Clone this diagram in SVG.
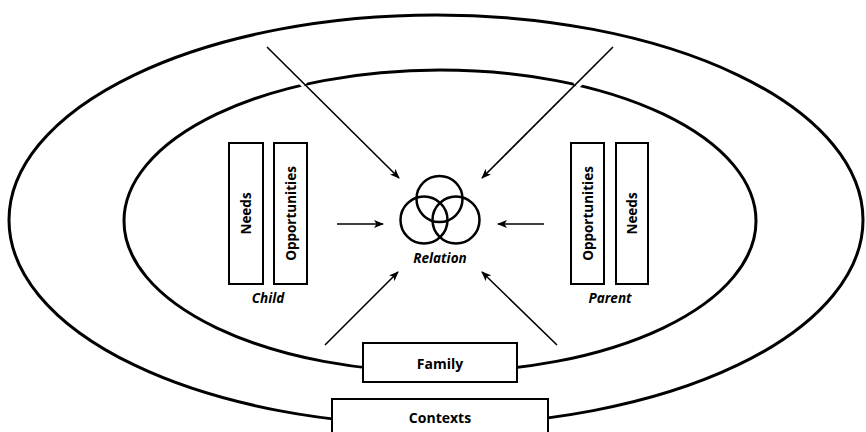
<svg xmlns="http://www.w3.org/2000/svg" width="866" height="432" viewBox="0 0 866 432">
<defs>
<marker id="ah" markerWidth="10" markerHeight="8" refX="9" refY="4" orient="auto" markerUnits="userSpaceOnUse">
<path d="M0,0 L10,4 L0,8 L2.5,4 Z" fill="#000"/>
</marker>
</defs>
<style>
.ring{fill:none;stroke:#000;stroke-width:3}
.box{fill:#fff;stroke:#000;stroke-width:2}
.circ{fill:none;stroke:#000;stroke-width:2.5}
.halo{stroke:#fff;stroke-width:7;fill:none}
.arr{stroke:#000;stroke-width:1.6;fill:none;marker-end:url(#ah)}
.lbl{font-family:"Open Sans","Noto Sans",sans-serif;font-weight:bold;font-size:14px;fill:#000;text-anchor:middle}
.vlbl{font-family:"Open Sans","Noto Sans",sans-serif;font-weight:bold;font-size:13.5px;fill:#000;text-anchor:middle;dominant-baseline:central}
.ital{font-family:"Open Sans","Noto Sans",sans-serif;font-weight:bold;font-style:italic;font-size:13.5px;fill:#000;text-anchor:middle}
</style>
<rect width="866" height="432" fill="#fff"/>
<g id="contexts-ring"><ellipse class="ring" cx="436" cy="220" rx="427" ry="205"/></g>
<g id="family-ring"><ellipse class="ring" cx="440" cy="221" rx="316" ry="151"/></g>
<g id="connectors">
<line class="halo" x1="290" y1="70" x2="305" y2="85"/>
<line class="halo" x1="592" y1="70" x2="576" y2="86"/>
<line class="arr" x1="267" y1="47" x2="399" y2="178"/>
<line class="arr" x1="613" y1="47" x2="482" y2="178"/>
<line class="arr" x1="337" y1="224" x2="383" y2="224"/>
<line class="arr" x1="544" y1="224" x2="498" y2="224"/>
<line class="arr" x1="325" y1="345" x2="398" y2="272"/>
<line class="arr" x1="557" y1="345" x2="482" y2="272"/>
</g>
<g id="child">
<rect class="box" x="229" y="143" width="34" height="141"/>
<text class="vlbl" transform="translate(246,213.5) rotate(-90)">Needs</text>
<rect class="box" x="274" y="143" width="33" height="141"/>
<text class="vlbl" transform="translate(290.5,213.5) rotate(-90)">Opportunities</text>
<text class="ital" x="268" y="303">Child</text>
</g>
<g id="parent">
<rect class="box" x="571" y="143" width="33" height="141"/>
<text class="vlbl" transform="translate(587.5,213.5) rotate(-90)">Opportunities</text>
<rect class="box" x="616" y="143" width="32" height="141"/>
<text class="vlbl" transform="translate(632,213.5) rotate(-90)">Needs</text>
<text class="ital" x="610" y="303">Parent</text>
</g>
<g id="relation">
<circle class="circ" cx="439.5" cy="199" r="23"/>
<circle class="circ" cx="424" cy="220" r="23.5"/>
<circle class="circ" cx="456" cy="220" r="23.5"/>
<text class="ital" x="440" y="263">Relation</text>
</g>
<g id="family">
<rect class="box" x="363" y="343" width="154" height="39"/>
<text class="lbl" x="440" y="369">Family</text>
</g>
<g id="contexts">
<rect class="box" x="332" y="399" width="216" height="40"/>
<text class="lbl" x="440" y="423">Contexts</text>
</g>
</svg>
